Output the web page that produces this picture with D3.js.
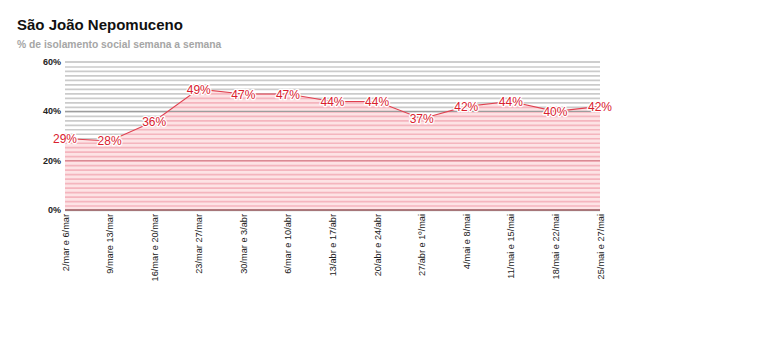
<!DOCTYPE html>
<html>
<head>
<meta charset="utf-8">
<script src="https://cdn.jsdelivr.net/npm/d3@7/dist/d3.min.js"></script>
<style>
  html, body { margin: 0; padding: 0; background: #fff; }
  svg { display: block; font-family: "Liberation Sans", Arial, sans-serif; }
</style>
</head>
<body>
<svg id="chart" width="780" height="344"></svg>
<script>
// Weekly social-isolation share, São João Nepomuceno
const weeks = [
  "2/mar e 6/mar", "9/mare 13/mar", "16/mar e 20/mar", "23/mar 27/mar",
  "30/mar e 3/abr", "6/mar e 10/abr", "13/abr e 17/abr", "20/abr e 24/abr",
  "27/abr e 1º/mai", "4/mai e 8/mai", "11/mai e 15/mai", "18/mai e 22/mai",
  "25/mai e 27/mai"
];
const isolation = [29, 28, 36, 49, 47, 47, 44, 44, 37, 42, 44, 40, 42];
const yTicks = [0, 20, 40, 60];
const yTickLabels = ["0%", "20%", "40%", "60%"];

const svg = d3.select("#chart");
const plotLeft = 65, plotRight = 600, plotTop = 62, plotBottom = 210;

const x = d3.scalePoint().domain(weeks).range([plotLeft, plotRight]);
const y = d3.scaleLinear().domain([0, 60]).range([plotBottom, plotTop]);

// Title block
svg.append("text").attr("x", 17).attr("y", 30)
  .attr("font-size", 15).attr("font-weight", "bold").attr("fill", "#111")
  .text("São João Nepomuceno");
svg.append("text").attr("x", 17).attr("y", 48)
  .attr("font-size", 10.3).attr("font-weight", "bold").attr("fill", "#a6a6a6")
  .text("% de isolamento social semana a semana");

// Fine striped background lines (33 per 60%)
const stripes = d3.range(0, 33).map(i => i * 60 / 33);

svg.append("g").selectAll("line").data(stripes).join("line")
  .attr("x1", plotLeft).attr("x2", plotRight)
  .attr("y1", d => y(d) + 0.5).attr("y2", d => y(d) + 0.5)
  .attr("stroke", "#cbcbcb").attr("stroke-width", 1.7);

// Area under the series, pink with its own stripes
const area = d3.area()
  .x((d, i) => x(weeks[i]))
  .y0(y(0)).y1(d => y(d));

const defs = svg.append("defs");
defs.append("clipPath").attr("id", "areaClip")
  .append("path").attr("d", area(isolation));

const pinkG = svg.append("g").attr("clip-path", "url(#areaClip)");
pinkG.append("rect").attr("x", plotLeft).attr("y", plotTop)
  .attr("width", plotRight - plotLeft).attr("height", plotBottom - plotTop)
  .attr("fill", "#fde3e5");
pinkG.selectAll("line").data(stripes).join("line")
  .attr("x1", plotLeft).attr("x2", plotRight)
  .attr("y1", d => y(d) + 0.5).attr("y2", d => y(d) + 0.5)
  .attr("stroke", "#f4b5be").attr("stroke-width", 1.7);

// Major grid lines
svg.append("g").selectAll("line").data(yTicks).join("line")
  .attr("x1", plotLeft).attr("x2", plotRight)
  .attr("y1", d => y(d)).attr("y2", d => y(d))
  .attr("stroke", d => d === 0 ? "#9a5a5e" : d === 20 ? "#d98a94" : "#9d9d9d")
  .attr("stroke-width", d => d === 0 ? 1.5 : 1.2);

// Y axis labels
svg.append("g").selectAll("text").data(yTicks).join("text")
  .attr("x", plotLeft - 4).attr("y", d => y(d) + 3)
  .attr("text-anchor", "end").attr("font-size", 9).attr("font-weight", "bold")
  .attr("fill", "#222")
  .text((d, i) => yTickLabels[i]);

// Series line
svg.append("path")
  .attr("d", d3.line().x((d, i) => x(weeks[i])).y(d => y(d))(isolation))
  .attr("fill", "none").attr("stroke", "#e0404f").attr("stroke-width", 1.1);

// Value labels with white halo
svg.append("g").selectAll("text").data(isolation).join("text")
  .attr("x", (d, i) => x(weeks[i])).attr("y", d => y(d) + 4.5)
  .attr("text-anchor", "middle").attr("font-size", 12)
  .attr("fill", "#d9202e")
  .attr("stroke", "#fff").attr("stroke-width", 2.5).attr("paint-order", "stroke")
  .attr("stroke-linejoin", "round")
  .text(d => d + "%");

// X axis labels, rotated
svg.append("g").selectAll("text").data(weeks).join("text")
  .attr("transform", d => `translate(${x(d) + 3.5},${plotBottom + 4}) rotate(-90)`)
  .attr("text-anchor", "end").attr("font-size", 9.2).attr("fill", "#222")
  .text(d => d);
</script>
</body>
</html>
